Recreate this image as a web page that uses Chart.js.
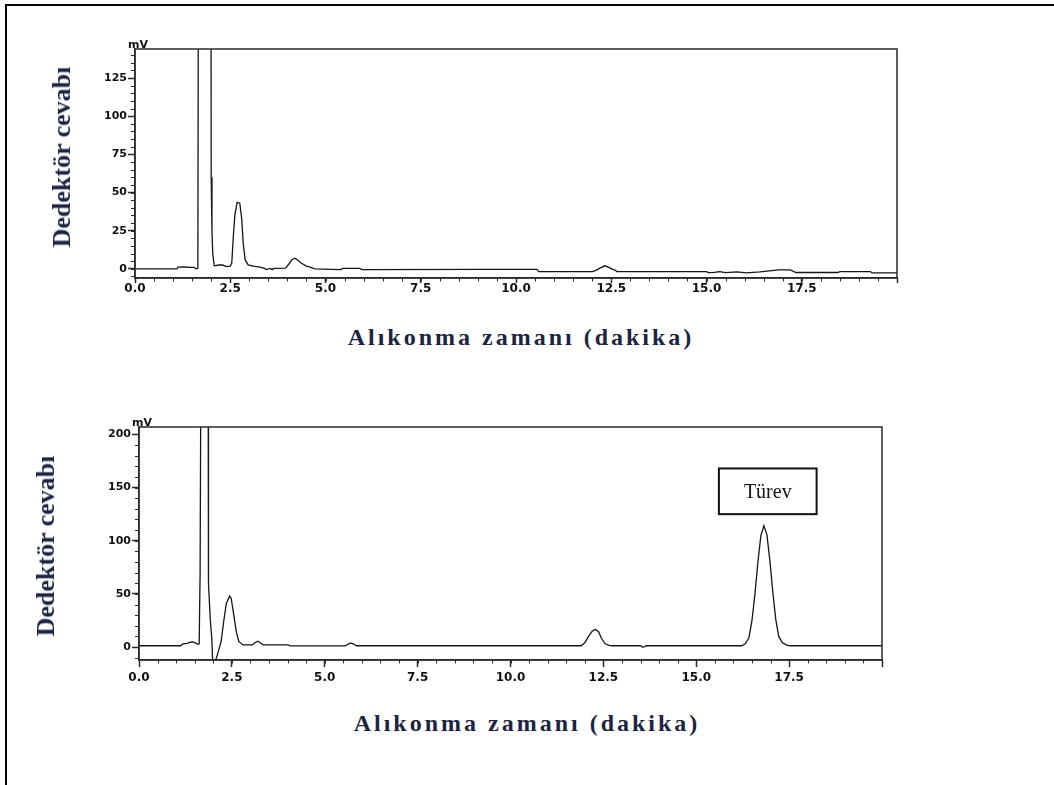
<!DOCTYPE html>
<html>
<head>
<meta charset="utf-8">
<script src="https://cdn.jsdelivr.net/npm/chart.js@4.4.1/dist/chart.umd.min.js"></script>
<style>
  html, body { margin: 0; padding: 0; background: #fff; }
  #page { position: relative; width: 1054px; height: 785px; overflow: hidden; }
  #frame { position: absolute; left: 5px; top: 4px; right: -10px; bottom: -10px;
           border-top: 2px solid #000; border-left: 2px solid #000; }
  canvas { position: absolute; left: 0; }
  .ytitle, .xtitle { position: absolute; white-space: nowrap; color: #1b2442;
                     font-family: "Liberation Serif", serif; font-weight: bold; }
  .ytitle { font-size: 26px; transform: translate(-50%, -50%) rotate(-90deg); }
  .xtitle { font-size: 24px; letter-spacing: 3px; transform: translate(-50%, -50%); }
</style>
</head>
<body>
<div id="page">
  <div id="frame"></div>
  <canvas id="chartTop" width="1054" height="310" style="top:0"></canvas>
  <canvas id="chartBottom" width="1054" height="310" style="top:390px"></canvas>
  <div class="ytitle" style="left:62px; top:157px">Dedektör cevabı</div>
  <div class="xtitle" style="left:521px; top:337px">Alıkonma zamanı (dakika)</div>
  <div class="ytitle" style="left:46px; top:546px">Dedektör cevabı</div>
  <div class="xtitle" style="left:527px; top:723px">Alıkonma zamanı (dakika)</div>
</div>
<script>
// retention time (min) and detector response (mV)
const timeTop = [0, 1.10, 1.13, 1.30, 1.45, 1.55, 1.60, 1.65, 1.67, 1.75, 1.85, 1.95, 1.99, 2.00, 2.02, 2.04, 2.08,
  2.20, 2.30, 2.40, 2.50, 2.54, 2.58, 2.62, 2.68, 2.75, 2.80, 2.84, 2.89, 2.97, 3.10, 3.20, 3.30, 3.40, 3.45,
  3.55, 3.60, 3.65, 3.95, 4.05, 4.12, 4.20, 4.28, 4.37, 4.50, 4.60, 4.72, 5.40, 5.45, 5.90, 5.95, 9.20,
  10.55, 10.60, 12.00, 12.10, 12.20, 12.33, 12.45, 12.55, 12.60, 12.65, 15.00, 15.05, 15.20, 15.35, 15.50,
  15.80, 16.05, 16.40, 16.90, 17.20, 17.35, 18.45, 18.50, 19.30, 19.35, 20];
const signalTop = [0, 0, 1.1, 1.2, 1.0, 1.0, 0, 0.4, 300, 900, 950, 700, 300, 60, 25, 10, 2,
  2.5, 2.5, 1.5, 1.8, 3.7, 21, 35, 43.6, 43, 33, 17, 6, 2.6, 1.8, 1.5, 1.0, 0.3, -0.5,
  0.3, -0.5, 0.3, 0.5, 3.5, 6.0, 7.0, 5.5, 3.7, 1.8, 1.1, 0, -0.5, 0.3, 0.3, -0.5, -0.3,
  -0.3, -1.8, -1.8, -1.0, 0.5, 2.0, 0.8, -0.5, -0.8, -1.8, -1.8, -2.5, -2.3, -1.8, -2.5,
  -2.0, -2.6, -2.0, -0.7, -0.7, -2.4, -2.4, -1.8, -1.8, -2.7, -2.7];

const timeBottom = [0, 1.12, 1.18, 1.30, 1.38, 1.45, 1.52, 1.58, 1.62, 1.645, 1.68, 1.75, 1.82, 1.86, 1.87, 1.92,
  1.96, 1.99, 2.02, 2.05, 2.12, 2.21, 2.28, 2.35, 2.44, 2.48, 2.53, 2.62, 2.69, 2.80, 3.05, 3.12, 3.20, 3.28,
  3.35, 4.02, 4.06, 5.55, 5.62, 5.70, 5.78, 5.85, 11.90, 12.00, 12.10, 12.20, 12.29, 12.37, 12.45, 12.55,
  12.65, 12.75, 13.50, 13.55, 13.62, 13.65, 16.22, 16.32, 16.42, 16.50, 16.58, 16.66, 16.74, 16.82, 16.90,
  16.98, 17.06, 17.14, 17.22, 17.32, 17.45, 17.55, 20];
const signalBottom = [1.2, 1.2, 3.0, 3.5, 4.5, 4.8, 4.0, 2.5, 3.0, 70, 400, 900, 600, 300, 60, 25,
  8, -20, -20, -14, -6, 5, 24, 41, 48, 46, 35, 14, 5, 2, 2, 4, 5.5, 3.5,
  2, 2, 1, 1, 2.5, 3.8, 2.8, 1.2, 1.2, 4, 10, 15, 16.5, 14.5, 8, 3,
  1.5, 1.2, 1.2, 0, 0.3, 1.2, 1.2, 3, 9, 25, 50, 80, 105, 114, 106,
  82, 52, 26, 10, 4, 1.5, 1.2, 1.2];

const xMajorTicks = [0, 2.5, 5, 7.5, 10, 12.5, 15, 17.5, 20];
const yTicksTop = [0, 25, 50, 75, 100, 125];
const yTicksBottom = [0, 50, 100, 150, 200];

Chart.defaults.font.family = 'DejaVu Sans';
Chart.defaults.color = '#111';

const axisColor = '#2a2a2a';

const plotFrame = {
  id: 'plotFrame',
  afterDraw(chart, args, o) {
    const { ctx, chartArea: a, scales: { x, y } } = chart;
    ctx.save();
    ctx.strokeStyle = axisColor;
    ctx.lineWidth = 1.5;
    ctx.strokeRect(a.left, a.top, a.right - a.left, a.bottom - a.top);

    // small ticks between the labelled ones
    ctx.lineWidth = 1;
    ctx.beginPath();
    for (let i = 0; x.min + i * o.xStep <= x.max + 1e-9; i++) {
      const px = Math.round(x.getPixelForValue(x.min + i * o.xStep)) + 0.5;
      ctx.moveTo(px, a.bottom);
      ctx.lineTo(px, a.bottom + 3.5);
    }
    const first = Math.ceil(y.min / o.yStep);
    for (let i = first; i * o.yStep <= y.max; i++) {
      const py = Math.round(y.getPixelForValue(i * o.yStep)) + 0.5;
      ctx.moveTo(a.left, py);
      ctx.lineTo(a.left - 4, py);
    }
    ctx.stroke();

    // unit above the y axis
    ctx.fillStyle = '#111';
    ctx.font = 'bold 11px "DejaVu Sans"';
    ctx.textAlign = 'center';
    ctx.textBaseline = 'alphabetic';
    ctx.fillText('mV', a.left + 3, a.top - 1);

    if (o.note) {
      const n = o.note;
      const l = x.getPixelForValue(n.xMin), r = x.getPixelForValue(n.xMax);
      const t = y.getPixelForValue(n.yMax), b = y.getPixelForValue(n.yMin);
      ctx.lineWidth = 2;
      ctx.strokeStyle = '#111';
      ctx.strokeRect(l, t, r - l, b - t);
      ctx.font = '20px "Liberation Serif"';
      ctx.textBaseline = 'middle';
      ctx.fillText(n.text, (l + r) / 2, (t + b) / 2 + 1);
    }
    ctx.restore();
  }
};

function makeChart(id, times, signal, cfg) {
  const points = times.map((t, i) => ({ x: t, y: signal[i] }));
  return new Chart(document.getElementById(id), {
    type: 'line',
    data: {
      datasets: [{
        data: points,
        borderColor: '#151515',
        borderWidth: 1.3,
        pointRadius: 0,
        tension: 0,
        clip: 0
      }]
    },
    options: {
      responsive: false,
      animation: false,
      devicePixelRatio: 1,
      layout: { padding: { left: 0, right: cfg.padRight, top: cfg.padTop, bottom: 0 } },
      plugins: {
        legend: { display: false },
        tooltip: { enabled: false },
        plotFrame: { xStep: 0.5, yStep: cfg.yMinor, note: cfg.note }
      },
      scales: {
        x: {
          type: 'linear',
          min: 0,
          max: 20,
          afterFit: s => { s.height = cfg.xHeight; },
          afterBuildTicks: s => { s.ticks = xMajorTicks.map(v => ({ value: v })); },
          ticks: {
            autoSkip: false,
            maxRotation: 0,
            padding: cfg.xLabelPad,
            font: { size: 12, weight: 'bold' },
            callback: v => (v === 20 ? '' : v.toFixed(1))
          },
          grid: { drawOnChartArea: false, tickLength: cfg.xTickLen, tickColor: axisColor, tickWidth: 1.5 },
          border: { display: true, color: axisColor, width: 1.5 }
        },
        y: {
          type: 'linear',
          min: cfg.yMin,
          max: cfg.yMax,
          afterFit: s => { s.width = cfg.yWidth; },
          afterBuildTicks: s => { s.ticks = cfg.yTicks.map(v => ({ value: v })); },
          ticks: {
            autoSkip: false,
            padding: 1,
            font: { size: 11, weight: 'bold' }
          },
          grid: { drawOnChartArea: false, tickLength: 7, tickColor: axisColor, tickWidth: 1.5 },
          border: { display: true, color: axisColor, width: 1.5 }
        }
      }
    },
    plugins: [plotFrame]
  });
}

makeChart('chartTop', timeTop, signalTop, {
  yMin: -6, yMax: 144, yTicks: yTicksTop, yMinor: 5,
  yWidth: 135, xHeight: 32, padTop: 49, padRight: 157, xTickLen: 5, xLabelPad: -1
});

makeChart('chartBottom', timeBottom, signalBottom, {
  yMin: -12.2, yMax: 207, yTicks: yTicksBottom, yMinor: 10,
  yWidth: 139, xHeight: 40, padTop: 37, padRight: 172, xTickLen: 7, xLabelPad: 4,
  note: { text: 'Türev', xMin: 15.61, xMax: 18.24, yMin: 125, yMax: 168 }
});
</script>
</body>
</html>
